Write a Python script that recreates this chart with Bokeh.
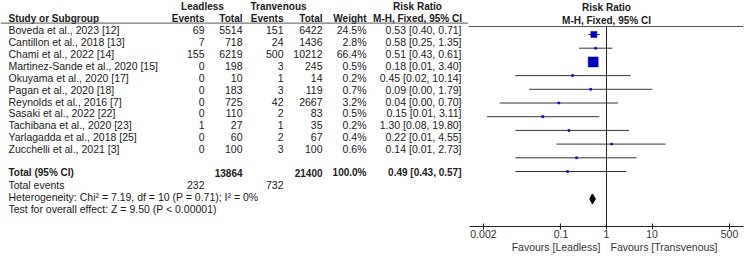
from bokeh.plotting import figure
from bokeh.layouts import row
from bokeh.models import Range1d, LogAxis, FixedTicker, Span, BoxAnnotation
from bokeh.core.properties import value
from bokeh.embed import file_html
from bokeh.resources import INLINE
import math

# ---------------- data ----------------
studies = ["Boveda et al., 2023 [12]", "Cantillon et al., 2018 [13]", "Chami et al., 2022 [14]",
           "Martinez-Sande et al., 2020 [15]", "Okuyama et al., 2020 [17]", "Pagan et al., 2020 [18]",
           "Reynolds et al., 2016 [7]", "Sasaki et al., 2022 [22]", "Tachibana et al., 2020 [23]",
           "Yarlagadda et al., 2018 [25]", "Zucchelli et al., 2021 [3]"]
le_events = [69, 7, 155, 0, 0, 0, 0, 0, 1, 0, 0]
le_total = [5514, 718, 6219, 198, 10, 183, 725, 110, 27, 60, 100]
tr_events = [151, 24, 500, 3, 1, 3, 42, 2, 1, 2, 3]
tr_total = [6422, 1436, 10212, 245, 14, 119, 2667, 83, 35, 67, 100]
weight = [24.5, 2.8, 66.4, 0.5, 0.2, 0.7, 3.2, 0.5, 0.2, 0.4, 0.6]
rr = [0.53, 0.58, 0.51, 0.18, 0.45, 0.09, 0.04, 0.15, 1.30, 0.22, 0.14]
ci_lo = [0.40, 0.25, 0.43, 0.01, 0.02, 0.00, 0.00, 0.01, 0.08, 0.01, 0.01]
ci_hi = [0.71, 1.35, 0.61, 3.40, 10.14, 1.79, 0.70, 3.11, 19.80, 4.55, 2.73]
# lower limits as drawn (the printed 0.00 values are rounded)
ci_lo_drawn = [0.40, 0.25, 0.43, 0.01, 0.02, 0.0045, 0.0024, 0.01, 0.08, 0.01, 0.01]

total_le = 13864
total_tr = 21400
total_weight = "100.0%"
total_rr, total_lo, total_hi = 0.49, 0.43, 0.57
events_le = 232
events_tr = 732
heterogeneity = "Heterogeneity: Chi\u00b2 = 7.19, df = 10 (P = 0.71); I\u00b2 = 0%"
overall = "Test for overall effect: Z = 9.50 (P < 0.00001)"
ticks = [0.002, 0.1, 1.0, 10.0, 500.0]
tick_labels = ["0.002", "0.1", "1", "10", "500"]
axis_bounds = (0.001, 1000.0)
no_effect = 1.0
favours_left = "Favours [Leadless]"
favours_right = "Favours [Transvenous]"

# ---------------- layout constants ----------------
FONT = value("Liberation Sans")
FS = "10.5px"
FSB = "10px"
TXT = "#1a1a1a"
Y0 = 6.6
DY = 13.7
def ry(i):
    return Y0 + DY * (i + 2)

n = len(studies)
rows_y = [ry(i) for i in range(n)]
y_total = ry(12)
y_events = ry(13)
y_het = ry(14)
y_test = ry(15)
y_h1 = ry(-2)
y_h2 = ry(-1)
y_line = 26.0

LW = 468
RW = 282
H = 260

left = figure(width=LW, height=H, x_range=Range1d(0, LW), y_range=Range1d(H, 0),
              output_backend="svg", toolbar_location=None, x_axis_location=None,
              y_axis_location=None, min_border=0)
left.outline_line_color = None
for g in left.grid:
    g.grid_line_color = None

def txt(p, xs, ys, texts, align="left", bold=False):
    p.text(x=xs, y=ys, text=texts, text_font=FONT,
           text_font_size=FSB if bold else FS,
           text_font_style="bold" if bold else "normal",
           text_align=align, text_baseline="middle", text_color=TXT)

# header rule (annotation spanning the whole panel)
left.add_layout(Span(location=y_line, dimension="width", line_color="#555555", line_width=1))

# headers
txt(left, [202, 278, 417], [y_h1] * 3, ["Leadless", "Tranvenous", "Risk Ratio"], "center", True)
txt(left, [8], [y_h2], ["Study or Subgroup"], "left", True)
txt(left, [204, 242, 283, 322, 366], [y_h2] * 5, ["Events", "Total", "Events", "Total", "Weight"], "right", True)
txt(left, [417], [y_h2], ["M-H, Fixed, 95% CI"], "center", True)

# study rows
txt(left, [8] * n, rows_y, studies, "left")
txt(left, [204] * n, rows_y, [str(v) for v in le_events], "right")
txt(left, [242] * n, rows_y, [str(v) for v in le_total], "right")
txt(left, [283] * n, rows_y, [str(v) for v in tr_events], "right")
txt(left, [322] * n, rows_y, [str(v) for v in tr_total], "right")
txt(left, [366] * n, rows_y, ["%.1f%%" % w for w in weight], "right")
txt(left, [461] * n, rows_y, ["%.2f [%.2f, %.2f]" % (a, b, c) for a, b, c in zip(rr, ci_lo, ci_hi)], "right")

# totals
txt(left, [8], [y_total], ["Total (95% CI)"], "left", True)
txt(left, [242, 322, 366], [y_total] * 3, [str(total_le), str(total_tr), total_weight], "right", True)
txt(left, [461], [y_total], ["%.2f [%.2f, %.2f]" % (total_rr, total_lo, total_hi)], "right", True)
txt(left, [8], [y_events], ["Total events"], "left")
txt(left, [204, 283], [y_events] * 2, [str(events_le), str(events_tr)], "right")
txt(left, [8], [y_het], [heterogeneity], "left")
txt(left, [8], [y_test], [overall], "left")

# ---------------- forest panel ----------------
PX_DEC = 45.57
ONE_PX = 606.0
def px_to_x(px):
    return 10 ** ((px - ONE_PX) / PX_DEC)

xr = Range1d(px_to_x(LW), px_to_x(LW + RW))
AXIS_Y = 226.0
right = figure(width=RW, height=H, x_axis_type="log", x_range=xr, y_range=Range1d(AXIS_Y, 0.0),
               output_backend="svg", toolbar_location=None, x_axis_location=None,
               y_axis_location=None, min_border=0, min_border_bottom=34)
right.outline_line_color = None
for g in right.grid:
    g.grid_line_color = None

# header rule and line of no effect as annotations
right.add_layout(BoxAnnotation(left=xr.start, right=axis_bounds[1], top=y_line - 0.5, bottom=y_line + 0.5,
                               fill_color="#555555", fill_alpha=1.0, line_color=None))
right.add_layout(BoxAnnotation(left=px_to_x(ONE_PX - 0.5), right=px_to_x(ONE_PX + 0.5),
                               top=y_line, bottom=AXIS_Y,
                               fill_color="#222222", fill_alpha=1.0, line_color=None))
# line of no effect also as a glyph (starting just below the rule)
right.segment(x0=[no_effect, no_effect], y0=[y_line + 1.0, y_line + 1.0],
              x1=[no_effect, no_effect], y1=[AXIS_Y - 1.0, AXIS_Y - 1.0],
              line_color="#222222", line_width=1)

# CI whiskers
right.segment(x0=ci_lo_drawn, y0=rows_y, x1=ci_hi, y1=rows_y, line_color="#333333", line_width=1)

sizes = [max(2.0, 10.0 * math.sqrt(w / max(weight))) for w in weight]
right.scatter(x=rr, y=rows_y, size=sizes, marker="square", fill_color="#0000c0",
              line_color="#0000c0", line_width=0.5)
right.patch(x=[total_lo, total_rr, total_hi, total_rr], y=[y_total, y_total - 5, y_total, y_total + 5],
            fill_color="black", line_color="black")

txt(right, [no_effect], [y_h1], ["Risk Ratio"], "center", True)
txt(right, [no_effect], [y_h2], ["M-H, Fixed, 95% CI"], "center", True)

ax = LogAxis(ticker=FixedTicker(ticks=ticks), bounds=axis_bounds,
             major_label_overrides={t: l for t, l in zip(ticks, tick_labels)})
ax.major_tick_in = 3
ax.major_tick_out = 3
ax.minor_tick_in = 0
ax.minor_tick_out = 0
ax.axis_line_color = "#222222"
ax.major_tick_line_color = "#222222"
ax.major_label_standoff = 0
ax.major_label_text_font = "Liberation Sans"
ax.major_label_text_font_size = FS
ax.major_label_text_color = "#333333"
right.add_layout(ax, "below")

# favours captions: a second, rule-less axis whose two labels sit either side of 1
fav_pos = [px_to_x(ONE_PX - 50.5), px_to_x(ONE_PX + 57.5)]
fax = LogAxis(ticker=FixedTicker(ticks=fav_pos),
              major_label_overrides={fav_pos[0]: favours_left, fav_pos[1]: favours_right})
fax.axis_line_color = None
fax.major_tick_line_color = None
fax.major_tick_in = 0
fax.major_tick_out = 0
fax.minor_tick_in = 0
fax.minor_tick_out = 0
fax.major_label_standoff = 0
fax.major_label_text_font = "Liberation Sans"
fax.major_label_text_font_size = FS
fax.major_label_text_color = "#333333"
right.add_layout(fax, "below")

layout = row(left, right)
open("out.html", "w").write(file_html(layout, INLINE))
